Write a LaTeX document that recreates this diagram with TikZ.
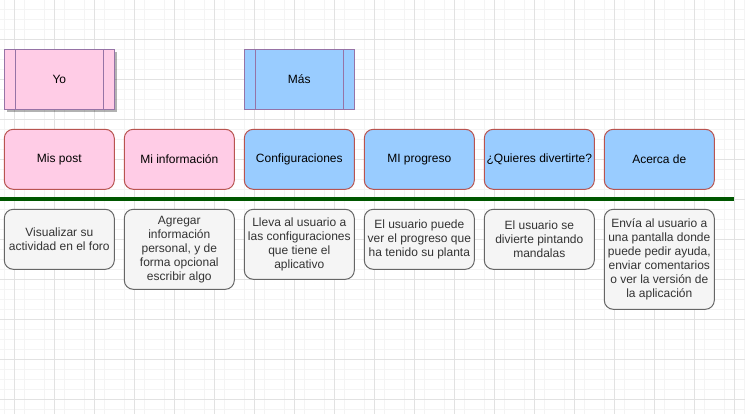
\documentclass[tikz,border=0pt]{standalone}
\usepackage{fontspec}
\setmainfont{Liberation Sans}
\usetikzlibrary{shadows}
\definecolor{mnpink}{HTML}{FFCCE6}
\definecolor{mnblue}{HTML}{99CCFF}
\definecolor{mnred}{HTML}{B85450}
\definecolor{mnpurple}{HTML}{9673A6}
\definecolor{mngray}{HTML}{F5F5F5}
\definecolor{mnedge}{HTML}{666666}
\definecolor{mnink}{HTML}{333333}
\definecolor{mngreen}{HTML}{005700}
\definecolor{mngridmaj}{HTML}{E2E2E2}
\definecolor{mngridmin}{HTML}{F4F4F4}
\newcommand{\mnfont}{\fontsize{12bp}{14bp}\selectfont}
\tikzset{
  sect/.style={draw=mnpurple,line width=1bp,minimum width=110bp,minimum height=60bp,
              inner sep=0pt,outer sep=0pt,font=\mnfont,text=black},
  item/.style={draw=mnred,line width=1bp,rounded corners=9bp,minimum width=110bp,
              minimum height=60bp,inner sep=0pt,outer sep=0pt,font=\mnfont,text=black},
  note/.style={draw=mnedge,line width=1bp,fill=mngray,rounded corners=9bp,minimum width=110bp,
              inner sep=0pt,outer sep=0pt,align=center,anchor=north,font=\mnfont,text=mnink},
  bar/.style={line width=1bp,draw=mnpurple},
  divider/.style={line width=4.5bp,draw=mngreen},
  gridmin/.style={line width=0.6bp,draw=mngridmin},
  gridmaj/.style={line width=0.8bp,draw=mngridmaj},
}

\begin{document}
\begin{tikzpicture}[x=1bp,y=-1bp]
  % canvas and grid
  \useasboundingbox (0,0) rectangle (745,414);
  \fill[white] (0,0) rectangle (745,414);
  \foreach \x in {4.3,24.3,...,744.3}{\draw[gridmin] (\x,0) -- (\x,414);}
  \foreach \y in {9.3,19.3,...,409.3}{\draw[gridmin] (0,\y) -- (745,\y);}
  \foreach \x in {14.3,54.3,...,734.3}{\draw[gridmaj] (\x,0) -- (\x,414);}
  \foreach \y in {39.3,79.3,...,399.3}{\draw[gridmaj] (0,\y) -- (745,\y);}

  % ---------- sections ----------
  \node[sect,fill=mnpink,drop shadow={shadow xshift=3bp,shadow yshift=-3bp,fill=black,opacity=0.3}]
    (yo) at (59.3,79.3) {Yo};
  \node[sect,fill=mnblue] (mas) at (299.3,79.3) {Más};
  \foreach \n in {yo,mas}{
    \draw[bar] ([xshift=11bp]\n.north west) -- ([xshift=11bp]\n.south west);
    \draw[bar] ([xshift=-11bp]\n.north east) -- ([xshift=-11bp]\n.south east);}

  % ---------- menu items ----------
  \node[item,fill=mnpink] (post) at (59.3,159.3) {Mis post};
  \node[item,fill=mnpink] (info) at (179.3,159.3) {Mi información};
  \node[item,fill=mnblue] (config) at (299.3,159.3) {Configuraciones};
  \node[item,fill=mnblue] (progreso) at (419.3,159.3) {MI progreso};
  \node[item,fill=mnblue] (divertir) at (539.3,159.3) {¿Quieres divertirte?};
  \node[item,fill=mnblue] (acerca) at (659.3,159.3) {Acerca de};

  % divider
  \coordinate (rule west) at (0,199);
  \coordinate (rule east) at (734,199);
  \draw[divider] (rule west) -- (rule east);

  % ---------- descriptions ----------
  \node[note,minimum height=60bp] (postnote) at (59.3,209.3)
    {Visualizar su\\actividad en el foro};
  \node[note,minimum height=80bp] (infonote) at (179.3,209.3)
    {Agregar\\información\\personal, y de\\forma opcional\\escribir algo};
  \node[note,minimum height=70bp] (confignote) at (299.3,209.3)
    {Lleva al usuario a\\las configuraciones\\que tiene el\\aplicativo};
  \node[note,minimum height=60bp] (progresonote) at (419.3,209.3)
    {El usuario puede\\ver el progreso que\\ha tenido su planta};
  \node[note,minimum height=60bp] (divertirnote) at (539.3,209.3)
    {El usuario se\\divierte pintando\\mandalas};
  \node[note,minimum height=100bp] (acercanote) at (659.3,209.3)
    {Envía al usuario a\\una pantalla donde\\puede pedir ayuda,\\enviar comentarios\\o ver la versión de\\la aplicación};
\end{tikzpicture}
\end{document}
